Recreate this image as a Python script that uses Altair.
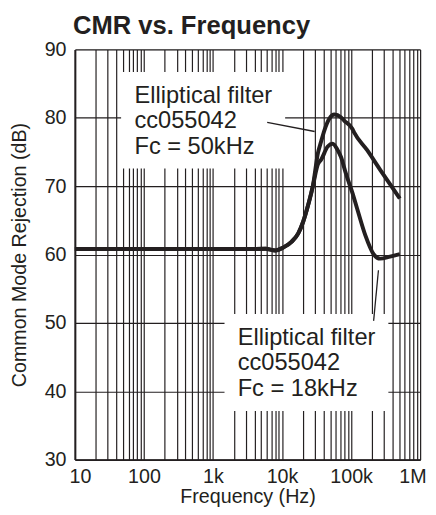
import altair as alt
import pandas as pd

# ---- data ----
common_freq = [10, 30, 100, 300, 1000, 3000, 5770, 8000, 10500, 13830, 17180, 20230, 23830, 28060]
common_db = [60.8, 60.8, 60.8, 60.8, 60.8, 60.8, 60.85, 60.6, 61.05, 61.9, 63.1, 64.8, 67.2, 70.1]

fc50_freq = [33040, 36980, 41200, 48500, 57100, 71200, 79300, 104000, 110000, 170000, 264000, 366000, 508000]
fc50_db = [74.8, 76.6, 78.2, 79.9, 80.5, 80.1, 79.6, 78.4, 77.9, 75.3, 72.4, 70.3, 68.2]

fc18_freq = [33040, 36980, 45900, 54100, 63700, 71200, 83800, 93300, 104000, 122500, 161000, 212000, 264000, 366000, 508000]
fc18_db = [73.2, 73.9, 75.8, 76.2, 75.3, 74.3, 71.9, 70.5, 69.1, 66.7, 62.8, 60.05, 59.4, 59.7, 60.05]

series_names = ["Fc = 50kHz", "Fc = 18kHz"]

decade_values = [10, 100, 1000, 10000, 100000, 1000000]
decade_labels = ["10", "100", "1k", "10k", "100k", "1M"]
y_ticks = [30, 40, 50, 60, 70, 80, 90]

label_texts = ["Elliptical filter\ncc055042\nFc = 50kHz", "Elliptical filter\ncc055042\nFc = 18kHz"]
label_freq = [73, 2281]
label_db = [82.2, 46.8]

box_freq_lo = [46.7, 1469]
box_freq_hi = [11090, 346700]
box_db_lo = [72.6, 37.1]
box_db_hi = [86.7, 51.3]

leader_freq_a = [6090, 212000]
leader_db_a = [79.35, 50.3]
leader_freq_b = [29700, 249000]
leader_db_b = [78.0, 57.7]

# ---- tables ----
rows = []
for name, f, d in [(series_names[0], fc50_freq, fc50_db), (series_names[1], fc18_freq, fc18_db)]:
    for ff, dd in zip(common_freq + f, common_db + d):
        rows.append({"series": name, "freq": ff, "db": dd})
curves = pd.DataFrame(rows)

boxes = pd.DataFrame({"f0": box_freq_lo, "f1": box_freq_hi, "d0": box_db_lo, "d1": box_db_hi})
leaders = pd.DataFrame({"fa": leader_freq_a, "da": leader_db_a, "fb": leader_freq_b, "db2": leader_db_b})
labels = pd.DataFrame({"txt": label_texts, "f": label_freq, "d": label_db})

grid_x = []
for k in range(1, 6):
    for m in range(1, 10):
        grid_x.append(m * 10 ** k)
grid_x.append(10 ** 6)

label_expr = " : ".join(f"datum.value == {v} ? '{l}'" for v, l in zip(decade_values, decade_labels)) + " : ''"

INK = "#231f20"
FONT = "Liberation Sans"

xscale = alt.Scale(type="log", domain=[10, 1000000], nice=False)
yscale = alt.Scale(domain=[30, 90], nice=False, zero=False)

xaxis = alt.Axis(values=grid_x, labelExpr=label_expr, ticks=False, grid=True,
                 gridColor=INK, gridWidth=1.2, gridOpacity=1,
                 domainColor=INK, domainWidth=2, labelFont=FONT, labelFontSize=20,
                 labelColor=INK, labelPadding=7, labelOverlap=False,
                 labelFlush=True, labelFlushOffset=6,
                 title="Frequency (Hz)", titleFont=FONT, titleFontSize=20,
                 titleFontWeight="normal", titleColor=INK, titlePadding=1)
yaxis = alt.Axis(values=y_ticks, ticks=False, grid=True,
                 gridColor=INK, gridWidth=1.2, gridOpacity=1,
                 domainColor=INK, domainWidth=2, labelFont=FONT, labelFontSize=20,
                 labelColor=INK, labelPadding=9,
                 title="Common Mode Rejection (dB)", titleFont=FONT, titleFontSize=20,
                 titleFontWeight="normal", titleColor=INK, titlePadding=15)

line_layer = alt.Chart(curves).mark_line(color=INK, strokeWidth=4, interpolate="monotone").encode(
    x=alt.X("freq:Q", scale=xscale, axis=xaxis),
    y=alt.Y("db:Q", scale=yscale, axis=yaxis),
    detail="series:N",
)

box_layer = alt.Chart(boxes).mark_rect(color="white", opacity=1).encode(
    x=alt.X("f0:Q", scale=xscale, axis=xaxis),
    x2="f1:Q",
    y=alt.Y("d0:Q", scale=yscale, axis=yaxis),
    y2="d1:Q",
)

leader_layer = alt.Chart(leaders).mark_rule(color=INK, strokeWidth=1.3).encode(
    x=alt.X("fa:Q", scale=xscale, axis=xaxis),
    x2="fb:Q",
    y=alt.Y("da:Q", scale=yscale, axis=yaxis),
    y2="db2:Q",
)

text_layer = alt.Chart(labels).mark_text(
    align="left", baseline="alphabetic", font=FONT, fontSize=24, color=INK,
    lineBreak="\n", lineHeight=26,
).encode(
    x=alt.X("f:Q", scale=xscale, axis=xaxis),
    y=alt.Y("d:Q", scale=yscale, axis=yaxis),
    text="txt:N",
)

chart = alt.layer(box_layer, line_layer, leader_layer, text_layer).properties(
    width=351, height=417,
    autosize=alt.AutoSizeParams(type="none"),
    padding={"left": 68, "top": 38, "right": 8, "bottom": 44},
    title=alt.TitleParams("CMR vs. Frequency", anchor="start", frame="group", fontSize=26,
                          fontWeight="bold", font=FONT, color=INK, offset=1, dx=-2),
).configure_view(stroke=INK, strokeWidth=2).configure(background="white")

chart.save("out.html", embed_options={"renderer": "svg", "actions": False})
